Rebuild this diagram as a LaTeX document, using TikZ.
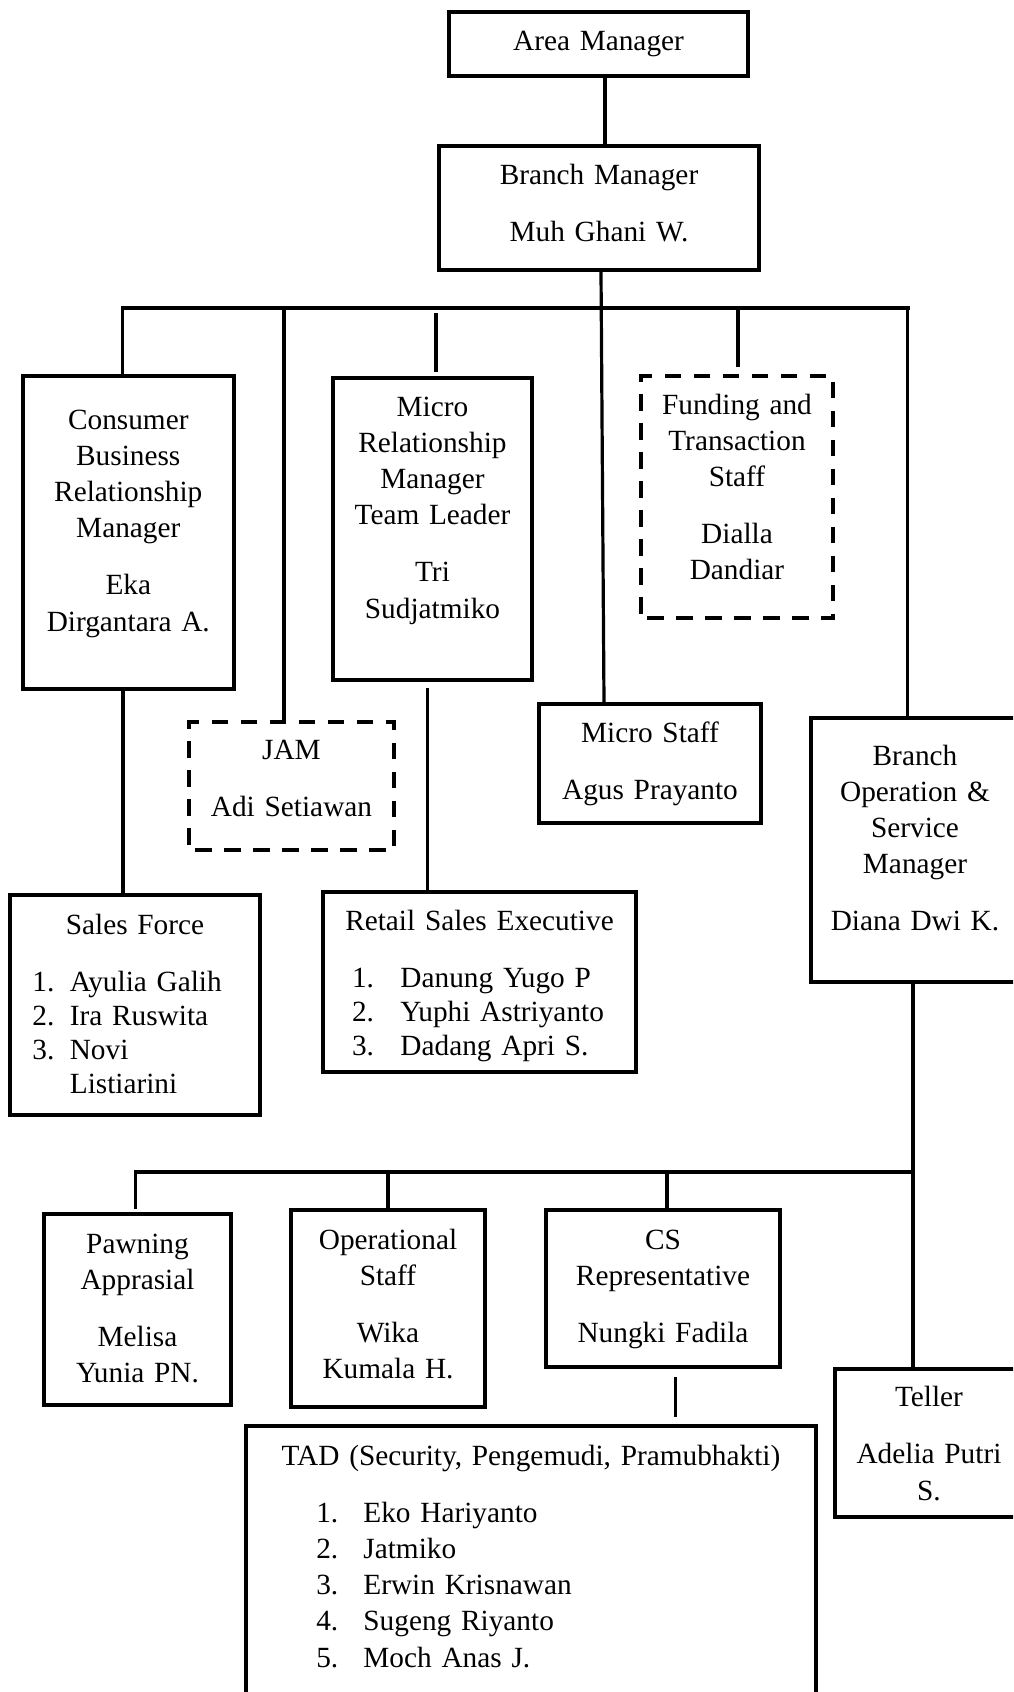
\documentclass[tikz,border=0pt]{standalone}
\usepackage{fontspec}
\setmainfont{Liberation Serif}
\usepackage{tikz}

\begin{document}
\begin{tikzpicture}[x=1pt, y=-1pt,
		box_style/.style={rectangle,draw=black,line width=4pt,fill=white,anchor=north,inner sep=0pt,align=center,font=\fontsize{29.3}{36.2}\selectfont},
		list_style/.style={box_style,align=left},
		dash_style/.style={box_style,dash pattern=on 16.5pt off 12.5pt,dash phase=23pt},
		edge_style/.style={draw=black,line width=3.2pt},
		bus_style/.style={draw=black,line width=4pt,line cap=rect}]
		\useasboundingbox (0,0) rectangle (1013,1692);
		\clip (0,0) rectangle (1013,1692);
		\node[box_style, text width=299, text height=38.5, text depth=25.5] (am) at (598.5,10) {Area Manager};
		\node[box_style, text width=320, text height=38, text depth=86] (bm) at (599,144) {Branch Manager\\[21pt]Muh Ghani W.};
		\node[box_style, text width=211.4, text height=53, text depth=260] (cbrm) at (128.3,374) {Consumer\\Business\\Relationship\\Manager\\[21pt]Eka\\Dirgantara A.};
		\node[box_style, text width=199, text height=38, text depth=264] (mrm) at (432.5,376) {Micro\\Relationship\\Manager\\Team Leader\\[21pt]Tri\\Sudjatmiko};
		\node[dash_style, text width=192, text height=38, text depth=204] (fts) at (737,374) {Funding and\\Transaction\\Staff\\[21pt]Dialla\\Dandiar};
		\node[dash_style, text width=205, text height=37, text depth=91] (jam) at (291.5,720) {JAM\\[21pt]Adi Setiawan};
		\node[box_style, text width=222, text height=38, text depth=81] (ms) at (650,702) {Micro Staff\\[21pt]Agus Prayanto};
		\node[box_style, text width=208, text height=47, text depth=217] (bosm) at (915,716) {Branch\\Operation \&\\Service\\Manager\\[21pt]Diana Dwi K.};
		\node[list_style, text width=250.3, text height=39, text depth=181] (sf) at (135,893) {\makebox[\linewidth]{Sales Force}\\[21pt]
			\hspace*{22.6pt}\makebox[37.4pt][l]{1.}Ayulia Galih\\[-2pt]
			\hspace*{22.6pt}\makebox[37.4pt][l]{2.}Ira Ruswita\\[-2pt]
			\hspace*{22.6pt}\makebox[37.4pt][l]{3.}Novi\\[-2pt]
			\hspace*{60pt}Listiarini};
		\node[list_style, text width=313, text height=38, text depth=142] (rse) at (479.5,890) {\makebox[\linewidth]{Retail Sales Executive}\\[21pt]
			\hspace*{29pt}\makebox[48.5pt][l]{1.}Danung Yugo P\\[-2pt]
			\hspace*{29pt}\makebox[48.5pt][l]{2.}Yuphi Astriyanto\\[-2pt]
			\hspace*{29pt}\makebox[48.5pt][l]{3.}Dadang Apri S.};
		\node[box_style, text width=187, text height=39, text depth=152] (pa) at (137.5,1212) {Pawning\\Apprasial\\[21pt]Melisa\\Yunia PN.};
		\node[box_style, text width=193.5, text height=39, text depth=158] (os) at (388,1208) {Operational\\Staff\\[21pt]Wika\\Kumala H.};
		\node[box_style, text width=234, text height=39, text depth=118] (cs) at (663,1208) {CS\\Representative\\[21pt]Nungki Fadila};
		\node[box_style, text width=188, text height=37.6, text depth=110.4] (te) at (929,1367) {Teller\\[21pt]Adelia Putri\\S.};
		\node[list_style, text width=570.5, text height=39, text depth=257] (tad) at (531,1424) {\makebox[\linewidth]{TAD (Security, Pengemudi, Pramubhakti)}\\[21pt]
			\hspace*{70.5pt}\makebox[47.2pt][l]{1.}Eko Hariyanto\\
			\hspace*{70.5pt}\makebox[47.2pt][l]{2.}Jatmiko\\
			\hspace*{70.5pt}\makebox[47.2pt][l]{3.}Erwin Krisnawan\\
			\hspace*{70.5pt}\makebox[47.2pt][l]{4.}Sugeng Riyanto\\
			\hspace*{70.5pt}\makebox[47.2pt][l]{5.}Moch Anas J.};
		\coordinate (t1) at (122.7,307.5);
		\coordinate (t2) at (284,307.5);
		\coordinate (t3) at (436,307.5);
		\coordinate (t5) at (738,307.5);
		\coordinate (t6) at (907.6,307.5);
		\coordinate (u1) at (135.7,1172);
		\coordinate (u2) at (388,1172);
		\coordinate (u3) at (667,1172);
		\coordinate (u4) at (913,1172);
		\draw[edge_style] ([xshift=6.5pt]am.south) -- ([xshift=6.5pt]am.south |- bm.north);
		\draw[bus_style] (t1) -- (t6);
		\draw[edge_style] ([xshift=2pt]bm.south) -- ([xshift=-46pt]ms.north);
		\draw[edge_style] (t1) -- (t1 |- cbrm.north);
		\draw[edge_style] (t2) -- (t2 |- jam.north);
		\draw[edge_style, shorten <=5.5pt, shorten >=4pt] (t3) -- (t3 |- mrm.north);
		\draw[edge_style, shorten >=7pt] (t5) -- (t5 |- fts.north);
		\draw[edge_style] (t6) -- (t6 |- bosm.north);
		\draw[edge_style] ([xshift=-5.3pt]cbrm.south) -- ([xshift=-5.3pt]cbrm.south |- sf.north);
		\draw[edge_style, shorten <=6pt] ([xshift=-4.9pt]mrm.south) -- ([xshift=-4.9pt]mrm.south |- rse.north);
		\draw[edge_style] ([xshift=-2pt]bosm.south) -- ([xshift=-2pt]bosm.south |- te.north);
		\draw[bus_style] (u1) -- (u4);
		\draw[edge_style, shorten >=3pt] (u1) -- (u1 |- pa.north);
		\draw[edge_style] (u2) -- (u2 |- os.north);
		\draw[edge_style] (u3) -- (u3 |- cs.north);
		\draw[edge_style, shorten <=8pt, shorten >=7pt] ([xshift=12.7pt]cs.south) -- ([xshift=12.7pt]cs.south |- tad.north);
		\end{tikzpicture}
\end{document}
